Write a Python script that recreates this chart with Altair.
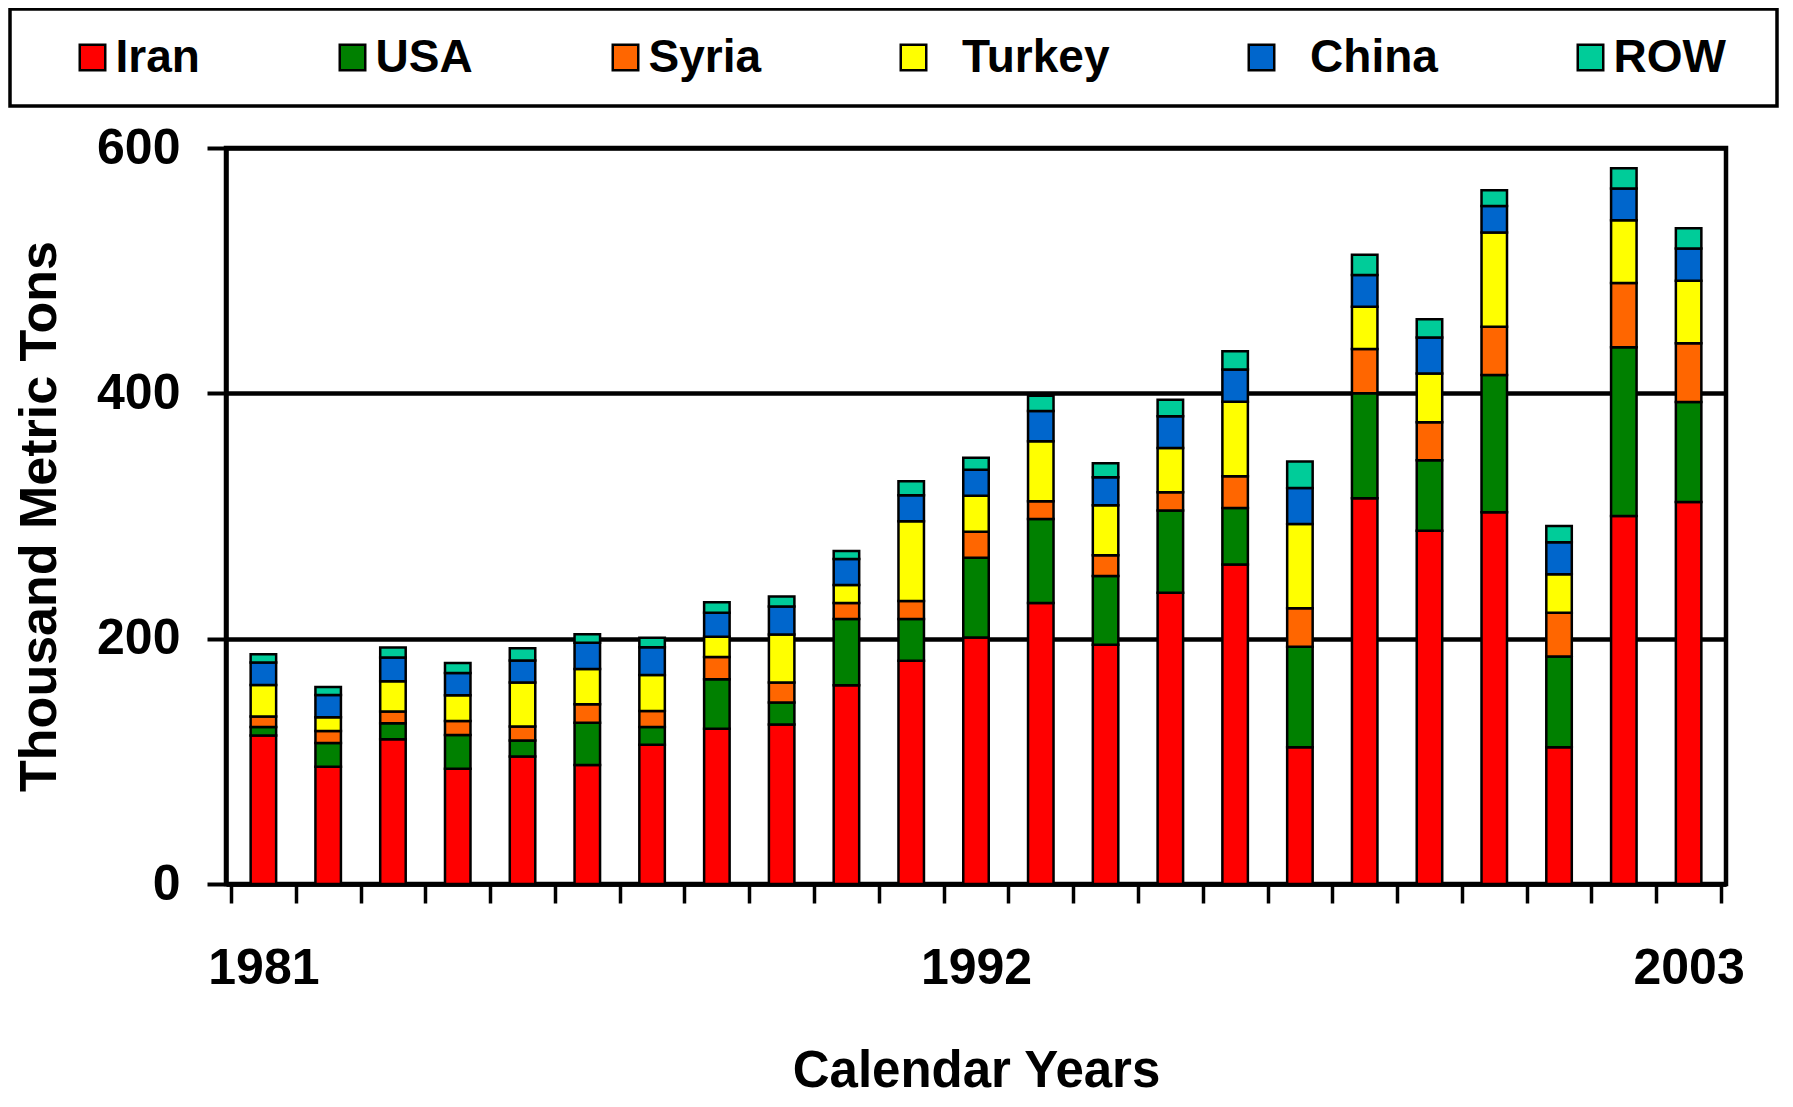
import altair as alt
import pandas as pd

years = list(range(1981, 2004))
NB = "\u00a0"
ZW = "\u200b"
# legend labels (Turkey/China carry leading spaces as in the original legend)
series = ["Iran", "USA", "Syria", ZW + NB + NB + "Turkey", ZW + NB + NB + "China", "ROW" + NB + NB + ZW]
colors = ["#FF0000", "#008000", "#FF6600", "#FFFF00", "#0066CC", "#00CC99"]

iran = [121, 95.5, 118, 94, 104, 97, 113.5, 126.5, 130, 162, 182, 201, 229, 195, 237.5, 260.5, 111.5, 314.5, 288, 303, 111.5, 300, 311.5]
usa = [7, 19.5, 13, 27.5, 13, 34.5, 14.5, 40.5, 18, 54, 34, 65, 68.5, 56, 67, 46, 82, 85.5, 57.5, 112, 74, 137.5, 81.5]
syria = [8.5, 9.7, 9.7, 11.4, 11.4, 15, 13, 18, 16.3, 13.1, 14.7, 21.2, 14.6, 17.1, 14.9, 25.9, 31.3, 36.1, 31, 39.3, 35.7, 52.5, 47.8]
turkey = [25.8, 11.2, 24.5, 20.9, 35.8, 28.8, 29.3, 16.6, 39.1, 14.6, 65.1, 29.3, 48.9, 40.7, 36, 60.8, 68.7, 34.5, 39.6, 76.8, 31.4, 51, 51]
china = [18.2, 18.1, 19.5, 18.2, 17.9, 21.4, 22.8, 19.6, 22.8, 21.2, 21.2, 21.2, 24.5, 22.8, 26, 26.3, 29.4, 25.9, 29.4, 21.6, 25.9, 25.9, 26.3]
row = [6.8, 6.6, 8.1, 8.1, 10.1, 6.8, 7.6, 8.4, 8.2, 6.5, 11.4, 9.8, 12.5, 11.4, 13.3, 14.9, 21.6, 16.5, 14.9, 12.9, 13.3, 16.5, 16.5]

x_label_years = [1981, 1992, 2003]
y_ticks = [0, 200, 400, 600]

values = [iran, usa, syria, turkey, china, row]
records = []
for idx, (name, vals) in enumerate(zip(series, values)):
    for yr, v in zip(years, vals):
        records.append({"year": yr, "country": name, "value": v, "idx": idx})
df = pd.DataFrame(records)

boundaries = [y - 0.5 for y in years] + [years[-1] + 0.5]
x_values = sorted(boundaries + x_label_years)

FONT = "Liberation Sans"

bars = alt.Chart(df).mark_bar(size=25.5, stroke="black", strokeWidth=2.5).encode(
    x=alt.X(
        "year:Q",
        scale=alt.Scale(domain=[boundaries[0], boundaries[-1]], nice=False, zero=False),
        axis=alt.Axis(
            values=x_values,
            tickCount=200,
            tickMinStep=0.25,
            labelExpr="datum.value % 1 === 0 ? '' + datum.value : ''",
            tickOpacity={"condition": {"test": "datum.value % 1 === 0", "value": 0}, "value": 1},
            labelOverlap=False,
            labelFlush=False,
            grid=False,
            tickSize=19,
            tickWidth=3.5,
            tickColor="black",
            domainColor="black",
            domainWidth=4.5,
            labelFont=FONT,
            labelFontSize=50,
            labelFontWeight="bold",
            labelColor="black",
            labelPadding=40,
            title="Calendar Years",
            titleFont=FONT,
            titleFontSize=51,
            titleFontWeight="bold",
            titleColor="black",
            titlePadding=53,
        ),
    ),
    y=alt.Y(
        "value:Q",
        stack="zero",
        scale=alt.Scale(domain=[0, 600], nice=False),
        axis=alt.Axis(
            values=y_ticks,
            grid=True,
            gridColor="black",
            gridWidth=4.5,
            gridOpacity=1,
            tickSize=19,
            tickWidth=4,
            tickColor="black",
            domainColor="black",
            domainWidth=4.5,
            labelFont=FONT,
            labelFontSize=50,
            labelFontWeight="bold",
            labelColor="black",
            labelPadding=27,
            title="Thousand Metric Tons",
            titleFont=FONT,
            titleFontSize=52,
            titleFontWeight="bold",
            titleColor="black",
            titlePadding=30,
        ),
    ),
    color=alt.Color(
        "country:N",
        scale=alt.Scale(domain=series, range=colors),
        legend=alt.Legend(
            orient="none",
            legendX=-216,
            legendY=-139,
            direction="horizontal",
            columns=6,
            columnPadding=129,
            symbolType="square",
            symbolSize=650,
            symbolStrokeColor="black",
            symbolStrokeWidth=2.5,
            symbolOpacity=1,
            labelFont=FONT,
            labelFontSize=46,
            labelFontWeight="bold",
            labelColor="black",
            labelOffset=0,
            labelLimit=400,
            padding=25.5,
            strokeColor="black",
            fillColor="white",
            title=NB,
            titleOrient="left",
            titleFont=FONT,
            titleFontSize=46,
            titlePadding=34,
        ),
    ),
    order=alt.Order("idx:Q", sort="ascending"),
)

chart = (
    alt.layer(bars)
    .properties(
        width=1500,
        height=736,
        background="white",
        autosize=alt.AutoSizeParams(type="none"),
        padding={"left": 218, "top": 140, "right": 59, "bottom": 215},
    )
    .configure_view(stroke="black", strokeWidth=4.5)
    .configure_legend(strokeColor="black", strokeWidth=3.5)
)

chart.save("out.html", embed_options={"renderer": "svg", "actions": False})
